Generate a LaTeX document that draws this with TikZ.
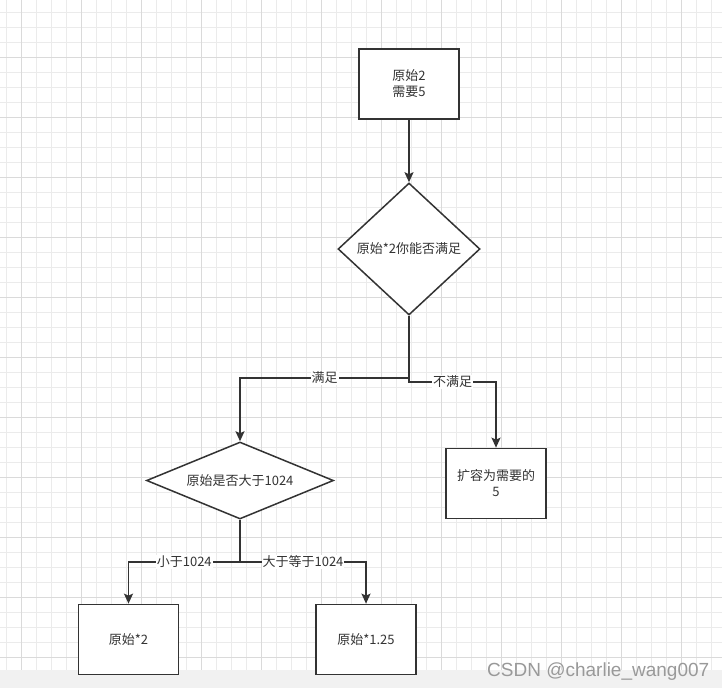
\documentclass[tikz,border=0pt]{standalone}
\usepackage{fontspec}
\setmainfont{Noto Sans CJK SC}
\newfontfamily\wmfont{Liberation Sans}
\usetikzlibrary{shapes.geometric,arrows.meta,positioning}
\definecolor{ink}{HTML}{333333}
\definecolor{gridminor}{HTML}{EBEBEB}
\definecolor{gridmajor}{HTML}{DADADA}
\definecolor{band}{HTML}{F1F1F1}

\begin{document}
\begin{tikzpicture}[
    x=1pt, y=-1pt,
    block/.style={rectangle, draw=ink, line width=1.7pt, fill=white, minimum width=100pt, minimum height=70pt, font=\fontsize{13}{16}\selectfont, text=ink, align=center},
    decision/.style={diamond, draw=ink, line width=1.5pt, fill=white, inner sep=0pt, font=\fontsize{13}{16}\selectfont, text=ink, align=center},
    flow/.style={draw=ink, line width=1.7pt, -{Stealth[length=10pt, width=9pt, inset=2pt]}},
    tag/.style={fill=white, inner sep=1pt, font=\fontsize{13}{15}\selectfont, text=ink}
]

% page and grid paper
\useasboundingbox (0,0) rectangle (722,688);
\fill[white] (0,0) rectangle (722,688);
\foreach \gx in {6,21,...,721} \draw[gridminor, line width=0.6pt] (\gx,0) -- (\gx,670);
\foreach \gy in {12,27,...,669} \draw[gridminor, line width=0.6pt] (0,\gy) -- (722,\gy);
\foreach \gx in {21,81,...,701} \draw[gridmajor, line width=0.7pt] (\gx,0) -- (\gx,670);
\foreach \gy in {57,117,...,669} \draw[gridmajor, line width=0.7pt] (0,\gy) -- (722,\gy);
\fill[band] (0,670) rectangle (722,688);

% Start: original and required
\node[block] (start) at (409,84) {原始2\\需要5};

% First check: is doubling enough
\node[decision, aspect=1.08, minimum width=142pt, minimum height=132pt] (enough) at (409,249) {原始*2你能否满足};

% Second check: above 1024
\node[decision, aspect=2.43, minimum width=187pt, minimum height=77pt] (big) at (240,480.5) {原始是否大于1024};

% Results
\node[block] (grow) at (496,483.5) {扩容为需要的\\5};
\node[block] (dbl) at (128.5,639.5) {原始*2};
\node[block] (mul) at (366,639.5) {原始*1.25};

% junctions
\coordinate (j1) at (409,378);
\coordinate (j2) at (409,382);
\coordinate (j3) at (240,562);

% connectors
\draw[flow] (start) -- (enough);
\draw[flow] (enough.south) -- (j1) -| node[tag, pos=0.25] {满足} (big.north);
\draw[flow] (enough.south) -- (j2) -| node[tag, pos=0.25] {不满足} (grow.north);
\draw[flow] (big.south) -- (j3) -| node[tag, pos=0.25] {小于1024} (dbl.north);
\draw[flow] (big.south) -- (j3) -| node[tag, pos=0.25] {大于等于1024} (mul.north);

% watermark
\node[anchor=base west, inner sep=0pt, text=gray!80, font=\wmfont\fontsize{19}{22}\selectfont] (mark) at (487,676) {CSDN @charlie\_wang007};

\end{tikzpicture}
\end{document}
